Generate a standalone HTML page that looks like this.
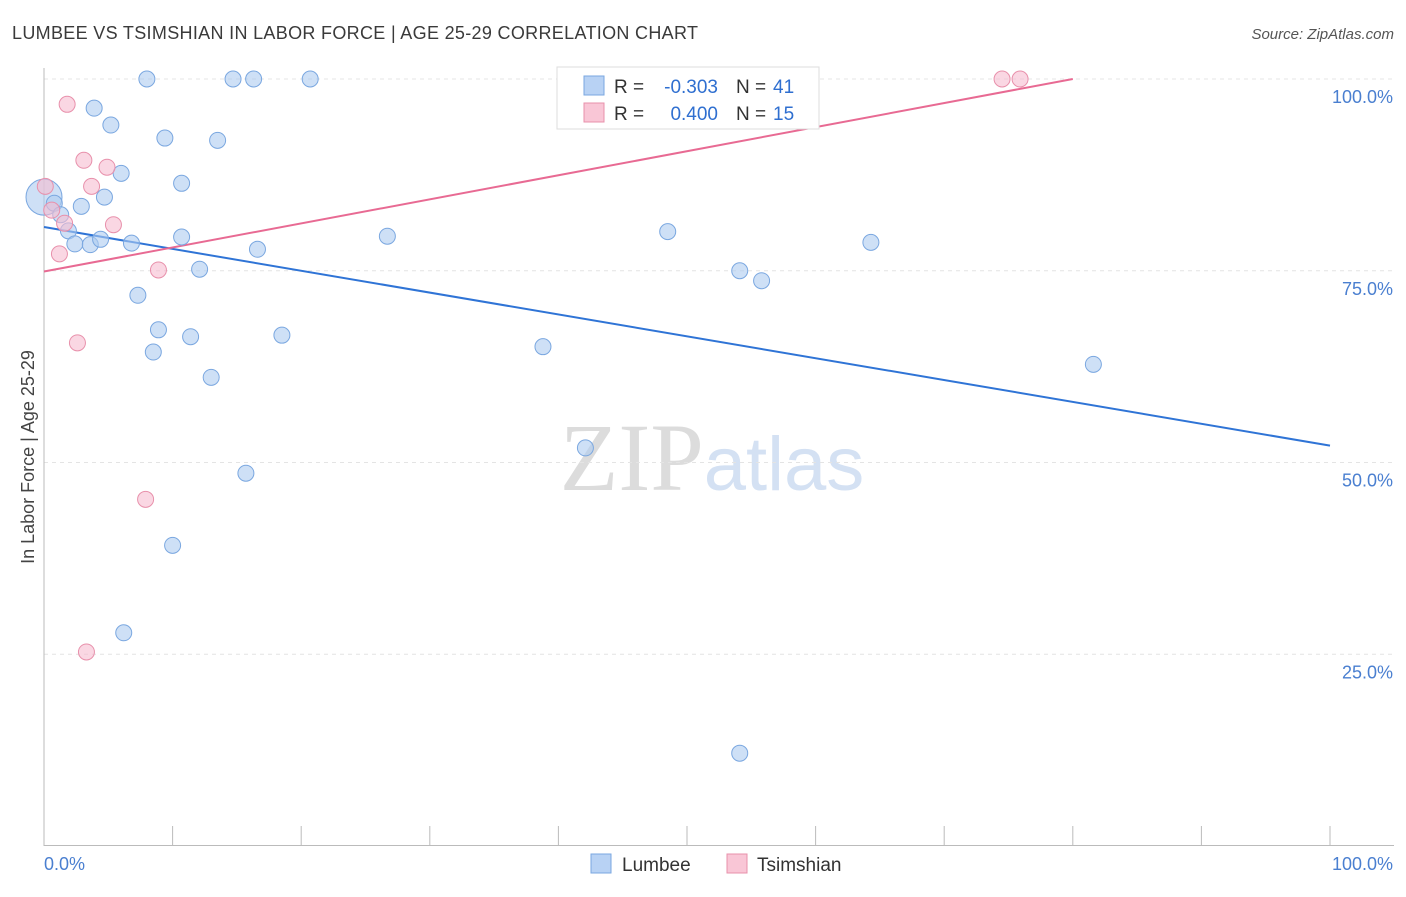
<!DOCTYPE html>
<html><head><meta charset="utf-8"><style>
body{margin:0;background:#fff;font-family:"Liberation Sans",sans-serif}
</style></head><body>
<svg width="1406" height="892" xmlns="http://www.w3.org/2000/svg" font-family="Liberation Sans, sans-serif">
<text x="12" y="39" font-size="18" textLength="686" fill="#3a3a3a">LUMBEE VS TSIMSHIAN IN LABOR FORCE | AGE 25-29 CORRELATION CHART</text>
<text x="1394" y="39" font-size="15" fill="#555" font-style="italic" text-anchor="end">Source: ZipAtlas.com</text>
<text x="712" y="490" font-size="96" text-anchor="middle"><tspan fill="#dcdcdc" font-family="Liberation Serif, serif">ZIP</tspan><tspan fill="#d4e1f3" font-size="76">atlas</tspan></text>
<text transform="translate(34,457) rotate(-90)" font-size="18" fill="#444" text-anchor="middle">In Labor Force | Age 25-29</text>
<g id="grid"></g><g id="axes"></g><g id="lines"></g><g id="pts"></g>
<g>
<rect x="557" y="67" width="262" height="62" fill="#fff" stroke="#ddd"/>
<rect x="584" y="76" width="20" height="19" fill="#b8d2f4" stroke="#7aa7e0"/>
<rect x="584" y="103" width="20" height="19" fill="#f9c6d6" stroke="#e890ab"/>
<text x="614" y="93" font-size="19" fill="#333">R =</text>
<text x="718" y="93" font-size="19" fill="#2f6fd0" text-anchor="end">-0.303</text>
<text x="736" y="93" font-size="19" fill="#333">N =</text>
<text x="773" y="93" font-size="19" fill="#2f6fd0">41</text>
<text x="614" y="120" font-size="19" fill="#333">R =</text>
<text x="718" y="120" font-size="19" fill="#2f6fd0" text-anchor="end">0.400</text>
<text x="736" y="120" font-size="19" fill="#333">N =</text>
<text x="773" y="120" font-size="19" fill="#2f6fd0">15</text>
</g>
<g>
<rect x="591" y="854" width="20" height="19" fill="#b8d2f4" stroke="#7aa7e0"/>
<text x="622" y="871" font-size="19" fill="#333">Lumbee</text>
<rect x="727" y="854" width="20" height="19" fill="#f9c6d6" stroke="#e890ab"/>
<text x="757" y="871" font-size="19" fill="#333">Tsimshian</text>
</g>
</svg>
<script>
const blueX=[0,0.8,1.3,1.9,2.4,3.6,4.4,3.9,5.2,2.9,4.7,6.0,6.8,8.0,9.4,10.7,10.7,13.5,14.7,16.3,20.7,12.1,16.6,7.3,8.9,11.4,8.5,18.5,13.0,26.7,48.5,64.3,54.1,55.8,38.8,81.6,42.1,15.7,10.0,6.2,54.1];
const blueY=[84.6,83.8,82.3,80.2,78.5,78.4,79.1,96.2,94.0,83.4,84.6,87.7,78.6,100,92.3,86.4,79.4,92.0,100,100,100,75.2,77.8,71.8,67.3,66.4,64.4,66.6,61.1,79.5,80.1,78.7,75.0,73.7,65.1,62.8,51.9,48.6,39.2,27.8,12.1];
const pinkX=[0.1,1.8,3.1,3.7,4.9,1.6,5.4,1.2,8.9,2.6,7.9,3.3,74.5,75.9,0.6];
const pinkY=[86.0,96.7,89.4,86.0,88.5,81.2,81.0,77.2,75.1,65.6,45.2,25.3,100,100,82.9];
const blueLine=[[0,80.7],[100,52.2]];
const pinkLine=[[0,74.9],[80,100]];
const yTicks=[100,75,50,25];
const yTickLabels=["100.0%","75.0%","50.0%","25.0%"];
const NS="http://www.w3.org/2000/svg";
const sx=v=>44+v*12.86, sy=v=>846-v*7.67;
function mk(p,t,a){const e=document.createElementNS(NS,t);for(const k in a)e.setAttribute(k,a[k]);document.getElementById(p).appendChild(e);return e;}
yTicks.forEach((t,i)=>{
 const g=mk('grid','line',{x1:44,x2:1394,y1:sy(t),y2:sy(t),stroke:'#e4e4e4','stroke-dasharray':'4,4'});
 
 
 const l=mk('grid','text',{x:1393,y:sy(t)+24,'font-size':18,fill:'#4a7fd0','text-anchor':'end'});
 l.textContent=yTickLabels[i];
 
 
});
mk('axes','line',{x1:44,x2:44,y1:68,y2:846,stroke:'#bbb'});
mk('axes','line',{x1:44,x2:1394,y1:845.5,y2:845.5,stroke:'#bbb'});
for(let i=0;i<=10;i++){const t=mk('axes','line',{x1:sx(i*10),x2:sx(i*10),y1:826,y2:846,stroke:'#bbb'});
 
 }
const x0=mk('axes','text',{x:44,y:870,'font-size':18,fill:'#4a7fd0'});x0.textContent='0.0%';


const x1=mk('axes','text',{x:1393,y:870,'font-size':18,fill:'#4a7fd0','text-anchor':'end'});x1.textContent='100.0%';


const bl=mk('lines','line',{x1:sx(blueLine[0][0]),y1:sy(blueLine[0][1]),x2:sx(blueLine[1][0]),y2:sy(blueLine[1][1]),stroke:'#2f74d6','stroke-width':2});


const pl=mk('lines','line',{x1:sx(pinkLine[0][0]),y1:sy(pinkLine[0][1]),x2:sx(pinkLine[1][0]),y2:sy(pinkLine[1][1]),stroke:'#e86a93','stroke-width':2});


blueX.forEach((x,i)=>{const c=mk('pts','circle',{cx:sx(x),cy:sy(blueY[i]),r:i===0?18:8,fill:'rgba(174,203,240,0.6)',stroke:'#7aa7e0','stroke-width':1});
 
 });
pinkX.forEach((x,i)=>{const c=mk('pts','circle',{cx:sx(x),cy:sy(pinkY[i]),r:8,fill:'rgba(247,188,208,0.6)',stroke:'#e890ab','stroke-width':1});
 
 });
</script>
</body></html>
